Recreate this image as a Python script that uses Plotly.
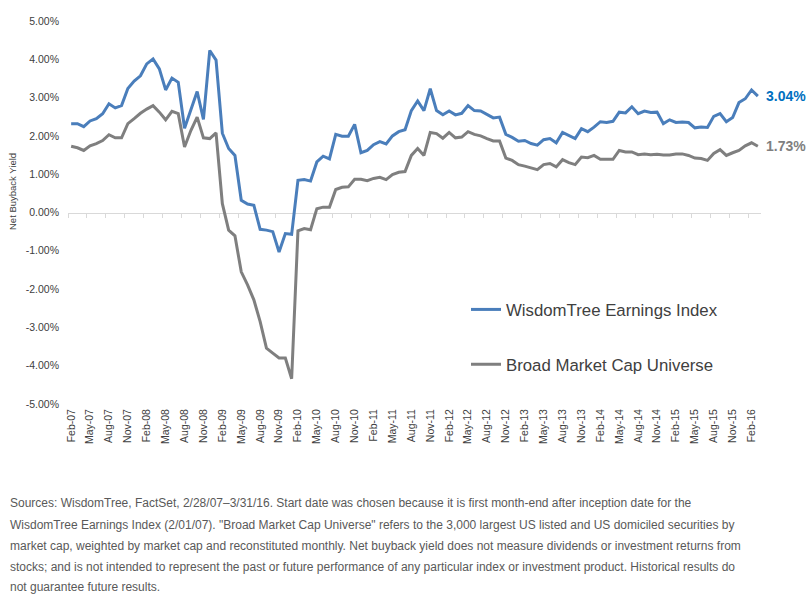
import pandas as pd
import plotly.graph_objects as go

# ---------------- data ----------------
months = pd.date_range("2007-02-01", "2016-03-01", freq="MS").strftime("%b-%y").tolist()

wisdomtree = [
    2.32, 2.32, 2.24, 2.39, 2.45, 2.58, 2.84, 2.73, 2.79, 3.24,
    3.43, 3.57, 3.88, 4.01, 3.75, 3.20, 3.51, 3.40, 2.20, 2.66,
    3.16, 2.43, 4.23, 3.98, 2.07, 1.67, 1.49, 0.32, 0.22, 0.19,
    -0.44, -0.46, -0.50, -1.03, -0.55, -0.57, 0.84, 0.86, 0.82, 1.32,
    1.47, 1.40, 2.04, 1.99, 1.99, 2.30, 1.56, 1.62, 1.77, 1.85,
    1.79, 2.00, 2.11, 2.16, 2.66, 2.91, 2.66, 3.23, 2.66, 2.55,
    2.65, 2.55, 2.59, 2.79, 2.66, 2.65, 2.56, 2.47, 2.49, 2.04,
    1.96, 1.86, 1.88, 1.80, 1.76, 1.90, 1.93, 1.82, 2.09, 2.02,
    1.93, 2.19, 2.11, 2.23, 2.37, 2.35, 2.38, 2.62, 2.60, 2.76,
    2.58, 2.65, 2.61, 2.62, 2.32, 2.42, 2.35, 2.36, 2.35, 2.21,
    2.23, 2.22, 2.51, 2.58, 2.37, 2.48, 2.87, 2.97, 3.20, 3.04,
]

broad_market = [
    1.73, 1.69, 1.62, 1.74, 1.80, 1.88, 2.03, 1.95, 1.95, 2.32,
    2.45, 2.59, 2.70, 2.79, 2.62, 2.42, 2.64, 2.58, 1.71, 2.14,
    2.49, 1.95, 1.93, 2.08, 0.23, -0.46, -0.61, -1.55, -1.89, -2.28,
    -2.85, -3.54, -3.67, -3.80, -3.80, -4.34, -0.48, -0.42, -0.45, 0.10,
    0.14, 0.14, 0.60, 0.66, 0.67, 0.87, 0.87, 0.83, 0.89, 0.92,
    0.86, 0.99, 1.05, 1.07, 1.49, 1.67, 1.49, 2.09, 2.06, 1.94,
    2.09, 1.95, 1.97, 2.11, 2.04, 2.00, 1.93, 1.87, 1.87, 1.42,
    1.36, 1.25, 1.21, 1.16, 1.12, 1.25, 1.28, 1.19, 1.38, 1.30,
    1.25, 1.45, 1.43, 1.49, 1.39, 1.39, 1.39, 1.62, 1.58, 1.58,
    1.51, 1.53, 1.51, 1.52, 1.50, 1.50, 1.53, 1.53, 1.49, 1.42,
    1.41, 1.36, 1.54, 1.64, 1.49, 1.56, 1.62, 1.74, 1.82, 1.73,
]

y_ticks = [-5, -4, -3, -2, -1, 0, 1, 2, 3, 4, 5]
y_ticktext = [f"{v:.2f}%" for v in y_ticks]

series_names = ["WisdomTree Earnings Index", "Broad Market Cap Universe"]

footnote_lines = [
    "Sources: WisdomTree, FactSet, 2/28/07\u20133/31/16. Start date was chosen because it is first month-end after inception date for the",
    "WisdomTree Earnings Index (2/01/07). \"Broad Market Cap Universe\" refers to the 3,000 largest US listed and US domiciled securities by",
    "market cap, weighted by market cap and reconstituted monthly. Net buyback yield does not measure dividends or investment returns from",
    "stocks; and is not intended to represent the past or future performance of any particular index or investment product. Historical results do",
    "not guarantee future results.",
]

assert len(months) == len(wisdomtree) == len(broad_market) == 110

# ---------------- style ----------------
BLUE = "#4A7EBB"
GREY = "#7F7F7F"
FONT = "Liberation Sans"
TXT = "#404040"

W, H = 809, 601
ML, MR, MT, MB = 68, 48, 21, 197
PW, PH = W - ML - MR, H - MT - MB


def px_x(px):
    return (px - ML) / PW


def px_y(py):
    return (H - MB - py) / PH


fig = go.Figure()
fig.add_trace(go.Scatter(
    x=months, y=wisdomtree, name=series_names[0], mode="lines",
    line=dict(color=BLUE, width=3), legendgroup="a", hoverinfo="skip",
    xaxis="x", yaxis="y",
))
fig.add_trace(go.Scatter(
    x=months, y=broad_market, name=series_names[1], mode="lines",
    line=dict(color=GREY, width=3), legendgroup="b", hoverinfo="skip",
    xaxis="x2", yaxis="y",
))

annotations = [
    dict(x=months[-1], y=wisdomtree[-1], xref="x", yref="y", xanchor="left", yanchor="middle",
         xshift=6, showarrow=False, text=f"<b>{wisdomtree[-1]:.2f}%</b>",
         font=dict(family=FONT, size=14, color="#0070C0")),
    dict(x=months[-1], y=broad_market[-1], xref="x", yref="y", xanchor="left", yanchor="middle",
         xshift=6, showarrow=False, text=f"<b>{broad_market[-1]:.2f}%</b>",
         font=dict(family=FONT, size=14, color=GREY)),
    dict(x=px_x(12), y=px_y(191), xref="paper", yref="paper", xanchor="center", yanchor="middle",
         showarrow=False, text="Net Buyback Yield", textangle=-90,
         font=dict(family=FONT, size=9.5, color=TXT)),
]
foot_y = [503, 524.5, 545.5, 566.5, 587]
for line, yy in zip(footnote_lines, foot_y):
    annotations.append(dict(
        x=px_x(8), y=px_y(yy), xref="paper", yref="paper", xanchor="left", yanchor="middle",
        showarrow=False, text=line, font=dict(family=FONT, size=12, color="#595959"),
    ))

fig.update_layout(
    width=W, height=H,
    margin=dict(l=ML, r=MR, t=MT, b=MB),
    paper_bgcolor="white", plot_bgcolor="white",
    font=dict(family=FONT, color=TXT),
    hovermode=False,
    showlegend=True,
    legend=dict(
        x=px_x(466), y=px_y(292), xanchor="left", yanchor="top",
        font=dict(family=FONT, size=16.8, color=TXT),
        bgcolor="rgba(0,0,0,0)", borderwidth=0,
        tracegroupgap=30, itemwidth=30,
    ),
    xaxis=dict(
        type="category", range=[-0.5, len(months) - 0.5],
        showline=False, showgrid=False, zeroline=False, ticks="",
        dtick=3, tickangle=-90, tickfont=dict(family=FONT, size=10.5, color=TXT),
        ticklabelstandoff=2,
    ),
    xaxis2=dict(
        type="category", range=[-0.5, len(months) - 0.5], overlaying="x",
        anchor="free", position=0.5, side="bottom",
        showline=True, linecolor="#D9D9D9", linewidth=1,
        showgrid=False, zeroline=False, showticklabels=False,
        ticks="outside", ticklen=4, tickcolor="#D9D9D9", tickwidth=1,
        tickson="boundaries", dtick=3, layer="below traces",
    ),
    yaxis=dict(
        range=[-5, 5], tickmode="array", tickvals=y_ticks, ticktext=y_ticktext,
        showgrid=False, zeroline=False, showline=False, ticks="",
        tickfont=dict(family=FONT, size=10.5, color=TXT), ticklabelstandoff=8,
    ),
    annotations=annotations,
)

fig.write_html("out.html")
